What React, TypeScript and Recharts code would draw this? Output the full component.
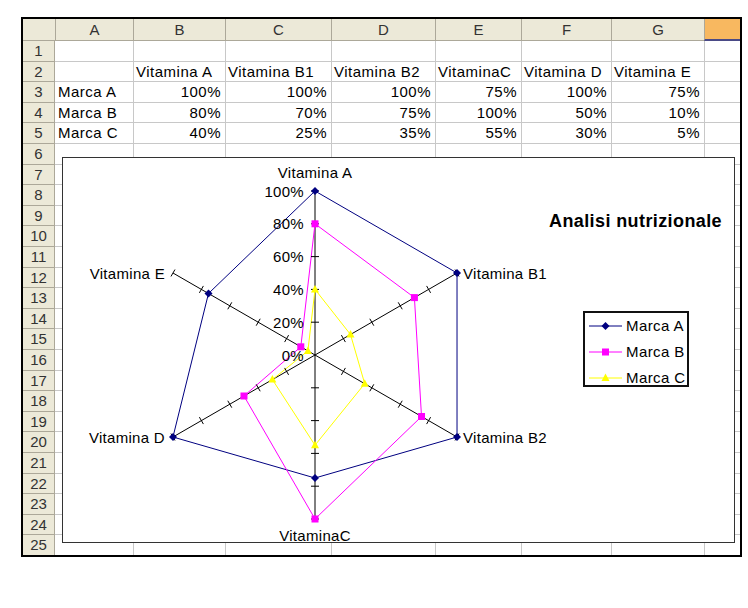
import React from 'react';
import { RadarChart, Radar, PolarGrid, PolarAngleAxis, PolarRadiusAxis, Legend } from 'recharts';

// ---------- data ----------
const categories = ['Vitamina A', 'Vitamina B1', 'Vitamina B2', 'VitaminaC', 'Vitamina D', 'Vitamina E'];
const seriesNames = ['Marca A', 'Marca B', 'Marca C'];
const marcaA = [100, 100, 100, 75, 100, 75];
const marcaB = [80, 70, 75, 100, 50, 10];
const marcaC = [40, 25, 35, 55, 30, 5];
const percentTicks = [0, 20, 40, 60, 80, 100];
const columnLetters = ['A', 'B', 'C', 'D', 'E', 'F', 'G', 'H'];
const chartTitle = 'Analisi nutrizionale';

const seriesValues = [marcaA, marcaB, marcaC];
const data = categories.map((name, i) => {
  const row: Record<string, any> = { name };
  seriesNames.forEach((s, k) => {
    row[s] = seriesValues[k][i];
  });
  return row;
});

// ---------- styles ----------
const FONT = '"Liberation Sans", Arial, sans-serif';
const COL_EDGES = [55, 133, 225, 331, 435, 521, 611, 704, 741];
const ROW_TOP = 41;
const ROW_H = 20.6;
const ROWS = 25;
const HEADER_BG = '#ECE9D8';
const HEADER_LINE = '#ACA899';
const GRID = '#C8C8C8';
const seriesColors = ['#000080', '#FF00FF', '#FFFF00'];

const CHART_LEFT = 63;
const CHART_TOP = 158;
const CHART_W = 671;
const CHART_H = 384;
const OUTER_R = 164;

// ---------- markers ----------
const Marker = ({ cx, cy, idx }: { cx: number; cy: number; idx: number }) => {
  const c = seriesColors[idx];
  if (idx === 0) {
    return <polygon points={`${cx},${cy - 4} ${cx + 4},${cy} ${cx},${cy + 4} ${cx - 4},${cy}`} fill={c} stroke="none" />;
  }
  if (idx === 1) {
    return <rect x={cx - 3.5} y={cy - 3.5} width={7} height={7} fill={c} stroke="none" />;
  }
  return <polygon points={`${cx},${cy - 4.5} ${cx + 4},${cy + 3} ${cx - 4},${cy + 3}`} fill={c} stroke="none" />;
};

const makeDot = (idx: number) => (props: any) => (
  <g key={`dot-${idx}-${props.index}`}>
    <Marker cx={props.cx} cy={props.cy} idx={idx} />
  </g>
);

// ---------- axis ticks ----------
// The value axis sits on the first category (90deg); the same radius is marked on every spoke.
const spokeAngles = categories.map((_, i) => 90 - (360 / categories.length) * i);

const renderRadiusTick = (props: any) => {
  const { x, y, payload } = props;
  const cx = typeof props.cx === 'number' ? props.cx : x;
  const cy = typeof props.cy === 'number' ? props.cy : y + (payload.value / 100) * OUTER_R;
  const r = Math.hypot(x - cx, y - cy);
  return (
    <g>
      {payload.value > 0 &&
        spokeAngles.map((a) => {
          const t = (a * Math.PI) / 180;
          const mx = cx + r * Math.cos(t);
          const my = cy - r * Math.sin(t);
          const px = Math.sin(t) * 4;
          const py = Math.cos(t) * 4;
          return (
            <line key={a} x1={mx - px} y1={my - py} x2={mx + px} y2={my + py} stroke="#000" strokeWidth={1} />
          );
        })}
      <text
        x={x - 11}
        y={y}
        textAnchor="end"
        dominantBaseline="central"
        fontFamily={FONT}
        fontSize={15}
        letterSpacing={0.3}
        fill="#000"
      >
        {`${payload.value}%`}
      </text>
    </g>
  );
};

const renderAngleTick = (props: any) => {
  const { x, y, payload } = props;
  const t = (payload.coordinate * Math.PI) / 180;
  const c = Math.cos(t);
  const s = Math.sin(t);
  const ex = x - 8 * c;
  const ey = y + 8 * s;
  let tx = ex;
  let ty = ey;
  let anchor: 'start' | 'middle' | 'end' = 'middle';
  if (Math.abs(c) < 0.01) {
    ty = s > 0 ? ey - 19 : ey + 16;
  } else if (c > 0) {
    anchor = 'start';
    tx = ex + 6;
  } else {
    anchor = 'end';
    tx = ex - 8;
  }
  return (
    <text
      x={tx}
      y={ty}
      textAnchor={anchor}
      dominantBaseline="central"
      fontFamily={FONT}
      fontSize={15}
      letterSpacing={0.3}
      fill="#000"
    >
      {payload.value}
    </text>
  );
};

// ---------- legend ----------
const renderLegend = (props: any) => {
  const payload = props.payload || [];
  return (
    <div
      style={{
        width: 106,
        height: 76,
        border: '2px solid #111',
        boxSizing: 'border-box',
        background: '#fff',
        position: 'relative',
      }}
    >
      {payload.map((entry: any) => {
        const idx = seriesNames.indexOf(entry.value);
        return (
          <div
            key={entry.value}
            style={{ position: 'absolute', left: 0, top: 2 + idx * 26, height: 22, width: 104 }}
          >
            <svg width={40} height={22} style={{ position: 'absolute', left: 4, top: 0 }}>
              <line x1={0} y1={11} x2={33} y2={11} stroke={seriesColors[idx]} strokeWidth={1} />
              <Marker cx={16.5} cy={11} idx={idx} />
            </svg>
            <span
              style={{
                position: 'absolute',
                left: 41,
                top: 0,
                lineHeight: '22px',
                fontFamily: FONT,
                fontSize: 15,
                letterSpacing: 0.4,
                color: '#000',
                whiteSpace: 'nowrap',
              }}
            >
              {entry.value}
            </span>
          </div>
        );
      })}
    </div>
  );
};

// ---------- spreadsheet ----------
const cellText = (row: number, col: number): { text: string; align: 'left' | 'right' } | null => {
  if (row === 2 && col >= 1 && col <= 6) return { text: categories[col - 1], align: 'left' };
  if (row >= 3 && row <= 5) {
    const k = row - 3;
    if (col === 0) return { text: seriesNames[k], align: 'left' };
    if (col >= 1 && col <= 6) return { text: `${seriesValues[k][col - 1]}%`, align: 'right' };
  }
  return null;
};

const Spreadsheet = () => {
  const els: React.ReactNode[] = [];
  els.push(
    <div key="hdr" style={{ position: 'absolute', left: 23, top: 19, width: 718, height: 22, background: HEADER_BG, borderBottom: `1px solid ${HEADER_LINE}`, boxSizing: 'border-box' }} />
  );
  columnLetters.forEach((L, j) => {
    const left = COL_EDGES[j];
    const w = COL_EDGES[j + 1] - left;
    const isH = L === 'H';
    els.push(
      <div
        key={`col-${L}`}
        style={{
          position: 'absolute',
          left,
          top: 19,
          width: w,
          height: 22,
          boxSizing: 'border-box',
          borderLeft: `1px solid ${HEADER_LINE}`,
          borderBottom: isH ? '2px solid #4a4a86' : `1px solid ${HEADER_LINE}`,
          background: isH ? '#F8B860' : HEADER_BG,
          textAlign: 'center',
          lineHeight: '21px',
          fontFamily: FONT,
          fontSize: 15,
          color: '#333',
        }}
      >
        {isH ? '' : L}
      </div>
    );
  });
  for (let r = 1; r <= ROWS; r++) {
    const top = ROW_TOP + (r - 1) * ROW_H;
    els.push(
      <div
        key={`rh-${r}`}
        style={{
          position: 'absolute',
          left: 23,
          top,
          width: 32,
          height: ROW_H,
          boxSizing: 'border-box',
          background: HEADER_BG,
          borderBottom: `1px solid ${HEADER_LINE}`,
          borderRight: `1px solid ${HEADER_LINE}`,
          textAlign: 'center',
          lineHeight: `${ROW_H}px`,
          fontFamily: FONT,
          fontSize: 15,
          color: '#333',
        }}
      >
        {r}
      </div>
    );
    els.push(
      <div key={`hl-${r}`} style={{ position: 'absolute', left: 55, top: top + ROW_H - 1, width: 686, height: 1, background: GRID }} />
    );
  }
  COL_EDGES.slice(1, -1).forEach((x, i) => {
    els.push(
      <div key={`vl-${i}`} style={{ position: 'absolute', left: x, top: ROW_TOP, width: 1, height: ROWS * ROW_H, background: GRID }} />
    );
  });
  for (let r = 1; r <= 6; r++) {
    for (let c = 0; c < 7; c++) {
      const ct = cellText(r, c);
      if (!ct) continue;
      const left = COL_EDGES[c];
      const w = COL_EDGES[c + 1] - left;
      els.push(
        <div
          key={`t-${r}-${c}`}
          style={{
            position: 'absolute',
            left: left + 3,
            top: ROW_TOP + (r - 1) * ROW_H,
            width: w - 7,
            height: ROW_H,
            lineHeight: `${ROW_H}px`,
            textAlign: ct.align,
            fontFamily: FONT,
            fontSize: 15,
            letterSpacing: 0.5,
            color: '#000',
            whiteSpace: 'nowrap',
          }}
        >
          {ct.text}
        </div>
      );
    }
  }
  return <>{els}</>;
};

export default function App() {
  return (
    <div style={{ position: 'absolute', left: 0, top: 0, width: 748, height: 608, background: '#fff', overflow: 'hidden' }}>
      <Spreadsheet />
      <div
        style={{
          position: 'absolute',
          left: CHART_LEFT - 1,
          top: CHART_TOP - 1,
          width: CHART_W + 2,
          height: CHART_H + 2,
          border: '1px solid #333',
          boxSizing: 'border-box',
          background: '#fff',
        }}
      />
      <div style={{ position: 'absolute', left: CHART_LEFT, top: CHART_TOP, width: CHART_W, height: CHART_H }}>
        <RadarChart
          width={CHART_W}
          height={CHART_H}
          data={data}
          cx={252}
          cy={197}
          outerRadius={OUTER_R}
          margin={{ top: 0, right: 0, bottom: 0, left: 0 }}
        >
          <PolarGrid gridType="polygon" polarRadius={[0]} stroke="#000" strokeWidth={1} strokeOpacity={1} />
          <PolarAngleAxis dataKey="name" tick={renderAngleTick} axisLine={false} tickLine={false} />
          <PolarRadiusAxis
            radiusAxisId={0}
            angle={90}
            type="number"
            domain={[0, 100]}
            ticks={percentTicks}
            tickCount={6}
            axisLine={false}
            tick={renderRadiusTick}
          />
          {seriesNames.map((s, idx) => (
            <Radar
              key={s}
              name={s}
              dataKey={s}
              radiusAxisId={0}
              stroke={seriesColors[idx]}
              strokeWidth={1}
              fill="none"
              fillOpacity={0}
              dot={makeDot(idx)}
              activeDot={false}
              isAnimationActive={false}
            />
          ))}
          <Legend
            content={renderLegend}
            wrapperStyle={{ position: 'absolute', left: 520, top: 153, width: 106, height: 76 }}
          />
        </RadarChart>
      </div>
      <div
        style={{
          position: 'absolute',
          left: 549,
          top: 210,
          fontFamily: FONT,
          fontSize: 18,
          fontWeight: 'bold',
          letterSpacing: 0.4,
          lineHeight: '22px',
          color: '#000',
          whiteSpace: 'nowrap',
        }}
      >
        {chartTitle}
      </div>
      <div
        style={{
          position: 'absolute',
          left: 21,
          top: 17,
          width: 721,
          height: 540,
          border: '2px solid #000',
          boxSizing: 'border-box',
          pointerEvents: 'none',
        }}
      />
    </div>
  );
}
